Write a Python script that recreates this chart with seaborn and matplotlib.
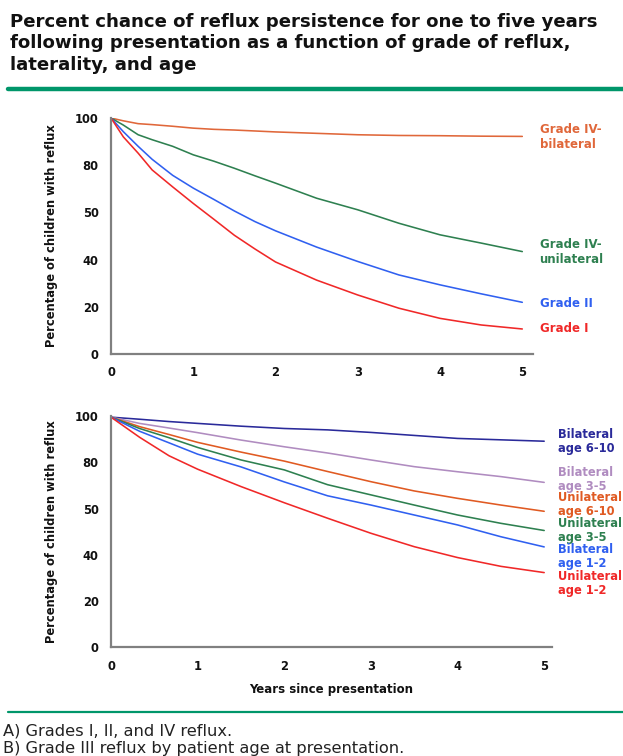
import numpy as np
import pandas as pd
import matplotlib
matplotlib.use("Agg")
import matplotlib.pyplot as plt
import seaborn as sns

# ---------------- data ----------------
years_a = [0, 0.15, 0.33, 0.5, 0.75, 1, 1.25, 1.5, 1.75, 2, 2.5, 3, 3.5, 4, 4.5, 5]
grade_iv_bilateral = [100, 98.8, 97.6, 97.2, 96.5, 95.7, 95.2, 94.9, 94.5, 94.1, 93.5, 92.9, 92.6, 92.5, 92.3, 92.2]
grade_iv_unilateral = [100, 97.0, 92.9, 90.8, 88.0, 84.4, 81.7, 78.7, 75.5, 72.4, 66.0, 61.1, 55.4, 50.5, 47.0, 43.4]
grade_ii = [100, 94.2, 88.0, 82.5, 75.7, 70.3, 65.5, 60.6, 56.1, 52.2, 45.3, 39.2, 33.5, 29.3, 25.5, 21.9]
grade_i = [100, 92.0, 85.1, 78.0, 70.8, 63.8, 57.1, 50.3, 44.5, 39.0, 31.3, 25.0, 19.4, 15.1, 12.3, 10.6]

years_b = [0, 0.33, 0.67, 1, 1.5, 2, 2.5, 3, 3.5, 4, 4.5, 5]
bilat_6_10 = [99.5, 98.6, 97.6, 96.8, 95.6, 94.6, 94.0, 92.9, 91.6, 90.3, 89.7, 89.1]
bilat_3_5 = [99.5, 96.8, 94.8, 92.8, 89.6, 86.7, 84.0, 81.0, 78.1, 75.9, 73.8, 71.3]
unilat_6_10 = [99.5, 95.4, 92.0, 88.6, 84.4, 80.5, 76.0, 71.6, 67.6, 64.4, 61.5, 58.8]
unilat_3_5 = [99.5, 94.6, 90.6, 86.4, 81.0, 76.7, 70.3, 65.9, 61.5, 57.2, 53.6, 50.5]
bilat_1_2 = [99.5, 93.4, 88.4, 83.5, 78.0, 71.5, 65.5, 61.5, 57.2, 52.9, 47.8, 43.4]
unilat_1_2 = [99.5, 90.8, 82.8, 77.0, 69.5, 62.5, 55.8, 49.3, 43.5, 38.8, 35.0, 32.3]

series_a = ["Grade IV-\nbilateral", "Grade IV-\nunilateral", "Grade II", "Grade I"]
series_b = ["Bilateral\nage 6-10", "Bilateral\nage 3-5", "Unilateral\nage 6-10",
            "Unilateral\nage 3-5", "Bilateral\nage 1-2", "Unilateral\nage 1-2"]

y_ticks = [0, 20, 40, 60, 80, 100]
y_tick_labels = ["0", "20", "40", "50", "80", "100"]
x_ticks = [0, 1, 2, 3, 4, 5]

title = ("Percent chance of reflux persistence for one to five years\n"
         "following presentation as a function of grade of reflux,\n"
         "laterality, and age")
caption = ["A) Grades I, II, and IV reflux.",
           "B) Grade III reflux by patient age at presentation."]

# ---------------- style ----------------
sns.set_style("white")
plt.rcParams['font.family'] = ['DejaVu Sans']

colors_a = ["#E0673A", "#2E8050", "#3060F0", "#F02828"]
colors_b = ["#2A2A9A", "#B08CC0", "#E05A22", "#2E8050", "#3060F0", "#F02828"]
axis_gray = "#808080"
txt = "#111111"

df_a = pd.concat([pd.DataFrame({"year": years_a, "pct": v, "series": n})
                  for n, v in zip(series_a, [grade_iv_bilateral, grade_iv_unilateral, grade_ii, grade_i])])
df_b = pd.concat([pd.DataFrame({"year": years_b, "pct": v, "series": n})
                  for n, v in zip(series_b, [bilat_6_10, bilat_3_5, unilat_6_10, unilat_3_5, bilat_1_2, unilat_1_2])])

fig = plt.figure(figsize=(6.23, 7.56), dpi=100)

# Title
fig.text(10/623, 1 - 13/756, title, ha="left", va="top", fontsize=13.1,
         fontweight="bold", color=txt, linespacing=1.24)
# green separator lines
fig.add_artist(plt.Line2D([8/623, 1.0], [1 - 89/756, 1 - 89/756], color="#00966A", lw=3.2))
fig.add_artist(plt.Line2D([8/623, 1.0], [1 - 712/756, 1 - 712/756], color="#00966A", lw=1.6))
fig.text(3/623, 1 - 731/756, caption[0], ha="left", va="center", fontsize=11.7, color="#222222")
fig.text(3/623, 1 - 748.5/756, caption[1], ha="left", va="center", fontsize=11.7, color="#222222")


def style_axes(ax, xmax):
    ax.set_xlim(0, xmax)
    ax.set_ylim(0, 100)
    ax.set_yticks(y_ticks)
    ax.set_yticklabels(y_tick_labels)
    ax.set_xticks(x_ticks)
    for s in ["top", "right"]:
        ax.spines[s].set_visible(False)
    for s in ["left", "bottom"]:
        ax.spines[s].set_color(axis_gray)
        ax.spines[s].set_linewidth(1.6)
    ax.tick_params(axis="both", direction="out", length=5, width=1.4, color=axis_gray,
                   labelsize=8.3, labelcolor=txt, pad=4)
    for lab in ax.get_xticklabels() + ax.get_yticklabels():
        lab.set_fontweight("bold")
    ax.set_ylabel("Percentage of children with reflux", fontsize=8.3, fontweight="bold",
                  color=txt, labelpad=12)
    ax.set_xlabel("")


# ---------- Panel A ----------
ax1 = fig.add_axes([111/623, 1 - 354/756, 422/623, 236/756])
sns.lineplot(data=df_a, x="year", y="pct", hue="series", palette=colors_a,
             hue_order=series_a, ax=ax1, linewidth=1.15, legend=False)
style_axes(ax1, 5.13)
lab_y_a = [92.0, 43.3, 21.6, 10.6]
for name, c, yv in zip(series_a, colors_a, lab_y_a):
    ax1.text(5.21, yv, name, color=c, fontsize=8.5, fontweight="bold", va="center",
             ha="left", linespacing=1.15, clip_on=False)

# ---------- Panel B ----------
ax2 = fig.add_axes([111/623, 1 - 647.3/756, 441/623, 231.3/756])
sns.lineplot(data=df_b, x="year", y="pct", hue="series", palette=colors_b,
             hue_order=series_b, ax=ax2, linewidth=1.15, legend=False)
style_axes(ax2, 5.09)
ax2.set_xlabel("Years since presentation", fontsize=8.5, fontweight="bold",
               color=txt, labelpad=7)
lab_y_b = [89.0, 72.5, 61.6, 50.4, 39.1, 27.6]
for name, c, yv in zip(series_b, colors_b, lab_y_b):
    ax2.text(5.16, yv, name, color=c, fontsize=8.3, fontweight="bold", va="center",
             ha="left", linespacing=1.1, clip_on=False)

fig.savefig("out.png", dpi=100)
